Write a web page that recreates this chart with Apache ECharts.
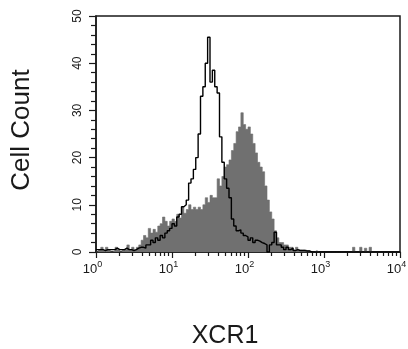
<!DOCTYPE html>
<html><head><meta charset="utf-8">
<script src="https://cdn.jsdelivr.net/npm/echarts@6/dist/echarts.min.js"></script>
<style>html,body{margin:0;padding:0;background:#fff}#c{width:408px;height:349px}</style>
</head><body><div id="c"></div>
<script>
// Histogram channels: 32 per decade over 4 decades (10^0 .. 10^4)
const channelsPerDecade = 32;
const xMajorTicks = [1, 10, 100, 1000, 10000];
const xTickExponents = ['0', '1', '2', '3', '4'];
const yTicks = [0, 10, 20, 30, 40, 50];

// XCR1 stained sample (gray filled)
const xcr1Counts = [
  0,0.5,1,0.3,1,0.5,0,0.3,1,0.5,
  0,0.5,0.5,1.5,0.5,1,0.5,1,1.5,2.5,
  3.5,3,5,4,4.8,4.2,5.5,6,7.4,6.5,
  5.5,6.5,7,6.5,8,7.2,9.5,8.2,9,10,
  9,9.5,9,9.5,9,10,11.5,10.5,12,11.5,
  11.5,15.5,14,16,18,18.5,19.5,21.5,23,25.5,
  26.5,29.5,27,26,26.5,25,23,21,19,18,
  17,14,11,8.5,7,4.5,3,2,2,1.5,
  1.5,1,1,0.5,1,0.5,0.5,0.5,0.3,0.3,
  0,0,0.3,0,0,0,0,0,0,0,
  0,0,0,0,0,0,0,0,1,0,
  0,1,0,0.8,0,1,0,0,0,0,
  0,0,0,0,0,0,0,0
];

// Control (black outline)
const controlCounts = [
  0.5,0.5,0.5,0.3,0.5,0.5,0.5,0.5,0.8,0.5,
  0.5,0.5,0.8,0.5,0.5,0.3,0.5,0.8,1,1,
  0.8,1.5,1.5,2.5,2,3,2.5,3.5,3,4,
  4.5,5,6,5.5,7.4,8,9.6,10,11,14.6,
  15.5,17.5,20,25,33,35,40,45.5,36,38.5,
  35,33.7,24.4,19,15.5,13.5,11.5,7,5.5,4.5,
  4.7,4,3.5,3.2,2.5,3,2,2.5,2.3,2,
  1.8,1.5,0,1.5,2,4.2,1.5,1.5,1,0.5,
  1,0.5,0.8,0.3,0.5,0.3,0.3,0.3,0.2,0.2,
  0,0,0,0,0,0,0,0,0,0,
  0,0,0,0,0,0,0,0,0,0,
  0,0,0,0,0,0,0,0,0,0,
  0,0,0,0,0,0,0,0
];

const edges = [];
for (let i = 0; i <= xcr1Counts.length; i++) edges.push(Math.pow(10, i / channelsPerDecade));
function toSeries(counts) {
  const d = counts.map((v, i) => [edges[i], v]);
  d.push([edges[counts.length], counts[counts.length - 1]]);
  return d;
}
const minorVals = [];
for (let d = 0; d < 4; d++) for (let m = 2; m <= 9; m++) minorVals.push(m * Math.pow(10, d));

const FONT = '"Liberation Sans", Arial, Helvetica, sans-serif';
const ink = '#1a1a1a';
const chart = echarts.init(document.getElementById('c'), null, {renderer: 'canvas'});
chart.setOption({
  animation: false,
  backgroundColor: '#fff',
  grid: {left: 96, right: 8, top: 16, bottom: 97, containLabel: false, outerBoundsMode: 'none',
         show: true, borderColor: ink, borderWidth: 1.5, backgroundColor: 'transparent'},
  xAxis: [{
    type: 'log', logBase: 10, min: xMajorTicks[0], max: xMajorTicks[xMajorTicks.length - 1],
    position: 'bottom',
    axisLine: {show: true, lineStyle: {color: ink, width: 1.5}},
    axisTick: {show: true, length: 6, lineStyle: {color: ink, width: 1.2}, customValues: xMajorTicks},
    minorTick: {show: false},
    splitLine: {show: false},
    axisLabel: {
      customValues: xMajorTicks,
      margin: 8,
      color: ink,
      fontFamily: FONT,
      hideOverlap: false,
      formatter: function (value, index) {
        const k = xMajorTicks.indexOf(value);
        return '{b|10}{s|' + xTickExponents[k >= 0 ? k : index] + '}';
      },
      rich: {
        b: {fontSize: 13, fontFamily: FONT, color: ink, verticalAlign: 'bottom', lineHeight: 16},
        s: {fontSize: 9, fontFamily: FONT, color: ink, verticalAlign: 'top', lineHeight: 16, padding: [0, 7, 0, 0]}
      }
    }
  }, {
    type: 'log', logBase: 10, min: xMajorTicks[0], max: xMajorTicks[xMajorTicks.length - 1],
    position: 'bottom',
    axisLine: {show: false},
    axisTick: {show: true, length: 4, lineStyle: {color: ink, width: 1.2}, customValues: minorVals},
    axisLabel: {show: false},
    splitLine: {show: false}
  }],
  yAxis: {
    type: 'value', min: yTicks[0], max: yTicks[yTicks.length - 1], interval: 10,
    axisLine: {show: true, lineStyle: {color: ink, width: 1.5}},
    axisTick: {show: true, length: 7, lineStyle: {color: ink, width: 1.2}},
    minorTick: {show: true, splitNumber: 5, length: 5, lineStyle: {color: ink, width: 1.2}},
    splitLine: {show: false},
    axisLabel: {rotate: 90, fontSize: 12, fontFamily: FONT, color: ink, margin: 12}
  },
  graphic: [
    {type: 'text', x: 225, y: 336, style: {text: 'XCR1', fontSize: 25, fontFamily: FONT, fill: ink, align: 'center', verticalAlign: 'middle'}},
    {type: 'text', x: 22, y: 130, rotation: Math.PI / 2, style: {text: 'Cell Count', fontSize: 26, fontFamily: FONT, fill: ink, align: 'center', verticalAlign: 'middle'}}
  ],
  series: [{
    type: 'line', xAxisIndex: 0, step: 'end', symbol: 'none',
    data: toSeries(xcr1Counts),
    lineStyle: {width: 0.6, color: '#6f6f6f'},
    areaStyle: {color: '#707070', opacity: 1}
  }, {
    type: 'line', xAxisIndex: 0, step: 'end', symbol: 'none',
    data: toSeries(controlCounts),
    lineStyle: {width: 1.4, color: '#000'}
  }]
});
</script></body></html>
